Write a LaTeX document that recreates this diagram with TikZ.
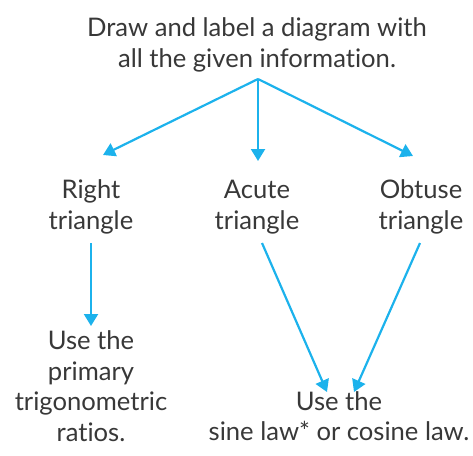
\documentclass[tikz,border=0pt]{standalone}
\usepackage{fontspec}
\setmainfont{Lato}[Ligatures=NoCommon]
\usetikzlibrary{arrows.meta}
\definecolor{ink}{HTML}{383838}
\definecolor{flow}{HTML}{1CB2EC}
\tikzset{
  label text/.style={font=\fontsize{25.6}{30.5}\selectfont, text=ink, align=center, inner sep=0pt},
  flow arrow/.style={draw=flow, line width=2.2pt, -{Triangle[width=14pt,length=12pt]}}
}
\begin{document}
\begin{tikzpicture}[x=1pt,y=-1pt]
  \useasboundingbox (0,0) rectangle (473,455);
  % question at the top
  \node[label text] (task) at (257,45) {Draw and label a diagram with\\all the given information.};
  % the three kinds of triangle
  \node[label text] (right) at (91,207) {Right\\triangle};
  \node[label text] (acute) at (257,207) {Acute\\triangle};
  \node[label text] (obtuse) at (421,207) {Obtuse\\triangle};
  % methods
  \node[label text] (primary) at (91,386) {Use the\\primary\\trigonometric\\ratios.};
  \node[label text] (laws) at (339,416) {Use the\\sine law* or cosine law.};
  % branching point under the question
  \coordinate (fork) at (258,79);
  \draw[flow arrow] (fork) -- (103,155);
  \draw[flow arrow] (fork) -- (258,161);
  \draw[flow arrow] (fork) -- (413,156);
  \draw[flow arrow] (91,243) -- (91,326);
  \draw[flow arrow] (262,243) -- (327,392);
  \draw[flow arrow] (420,243) -- (354,392);
\end{tikzpicture}
\end{document}
